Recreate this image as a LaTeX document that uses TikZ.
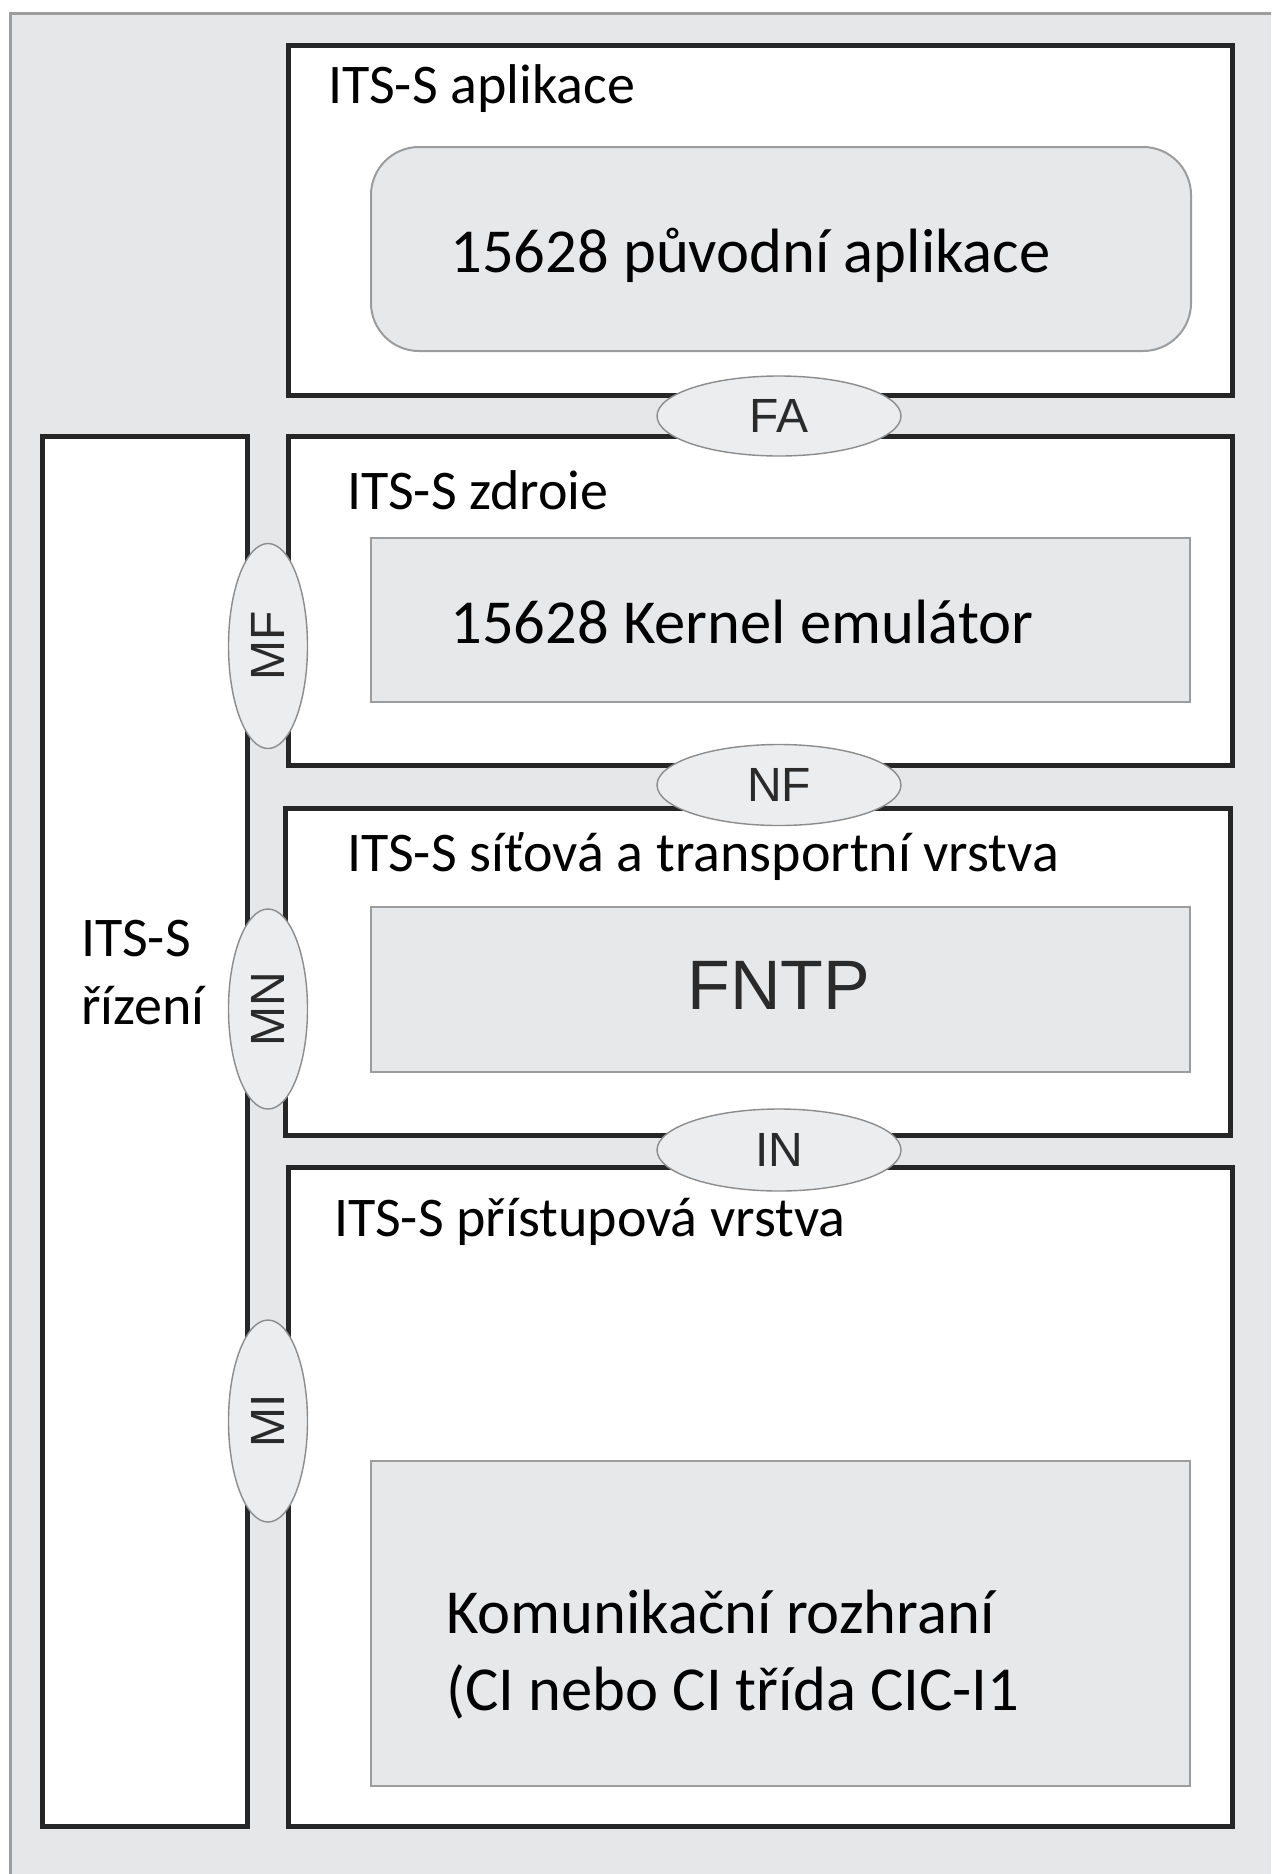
\documentclass[tikz,border=0pt]{standalone}
\usepackage{fontspec}
\setmainfont{Carlito}
\newfontfamily\arialfont{Liberation Sans}
\usetikzlibrary{shapes.geometric, positioning}

\definecolor{bggray}{HTML}{E6E7E9}
\definecolor{boxgray}{HTML}{E7E8EA}
\definecolor{rimgray}{HTML}{9C9C9C}
\definecolor{labelgray}{HTML}{2A2A2A}

\tikzset{
  layer/.style={draw=black!85, line width=2.5pt, fill=white},
  inner/.style={draw=rimgray, line width=1pt, fill=boxgray},
  sap/.style={ellipse, draw=rimgray!90!black, line width=0.7pt, fill=boxgray!80!white,
    inner sep=0pt, text=labelgray, font=\arialfont\fontsize{24}{28}\selectfont},
  saplabel/.style={rotate=90, text=labelgray, font=\arialfont\fontsize{24}{28}\selectfont},
  title/.style={anchor=base west, inner sep=0pt, font=\fontsize{28}{34}\selectfont, align=left},
  body/.style={anchor=base west, inner sep=0pt, font=\fontsize{31.3}{38.5}\selectfont, align=left}
}

\begin{document}
\begin{tikzpicture}[x=0.5pt, y=-0.5pt]
    \useasboundingbox (0,0) rectangle (1271,1874);
    % background frame
    \fill[bggray] (10,13) rectangle (1271,1874);
    \draw[rimgray, line width=1.5pt] (10,1874) -- (10,13) -- (1271,13);

    % layers
    \draw[layer] (288,45) rectangle (1232,395);
    \draw[layer] (288,436) rectangle (1232,765);
    \draw[layer] (285,808) rectangle (1230,1135);
    \draw[layer] (288,1167) rectangle (1232,1826);
    \draw[layer] (42,436) rectangle (247,1826);

    % inner blocks
    \draw[inner, rounded corners=24pt] (371,147) rectangle (1191,351);
    \draw[inner] (371,538) rectangle (1190,702);
    \draw[inner] (371,907) rectangle (1190,1072);
    \draw[inner] (371,1461) rectangle (1190,1786);

    % texts (multi-line nodes sit on their last baseline)
    \node[title] (app) at (328,103) {ITS-S aplikace};
    \node[title] (fac) at (347,509) {ITS-S zdroie};
    \node[title] (net) at (347,871) {ITS-S síťová a transportní vrstva};
    \node[title] (acc) at (334,1236) {ITS-S přístupová vrstva};
    \node[title] (mgmt) at (81,1024) {ITS-S\\řízení};
    \node[body] (orig) at (450,272) {15628 původní aplikace};
    \node[body] (kern) at (450,643) {15628 Kernel emulátor};
    \node[anchor=base, inner sep=0pt, text=labelgray,
      font=\arialfont\fontsize{35}{42}\selectfont] (fntp) at (779,1009) {FNTP};
    \node[body] (ci) at (446,1710) {Komunikační rozhraní\\(CI nebo CI třída CIC-I1};

    % service access points
    \node[sap, minimum width=122pt, minimum height=40pt] (FA) at (779,416) {FA};
    \node[sap, minimum width=122pt, minimum height=40.5pt] (NF) at (779,785) {NF};
    \node[sap, minimum width=122pt, minimum height=41pt] (IN) at (779,1150) {IN};
    \node[sap, minimum width=39.5pt, minimum height=102.5pt] (MF) at (268,646) {};
    \node[sap, minimum width=39.5pt, minimum height=100pt] (MN) at (268,1009) {};
    \node[sap, minimum width=39.5pt, minimum height=101pt] (MI) at (268,1421) {};
    \node[saplabel] at (MF) {MF};
    \node[saplabel] at (MN) {MN};
    \node[saplabel] at (MI) {MI};
\end{tikzpicture}
\end{document}
